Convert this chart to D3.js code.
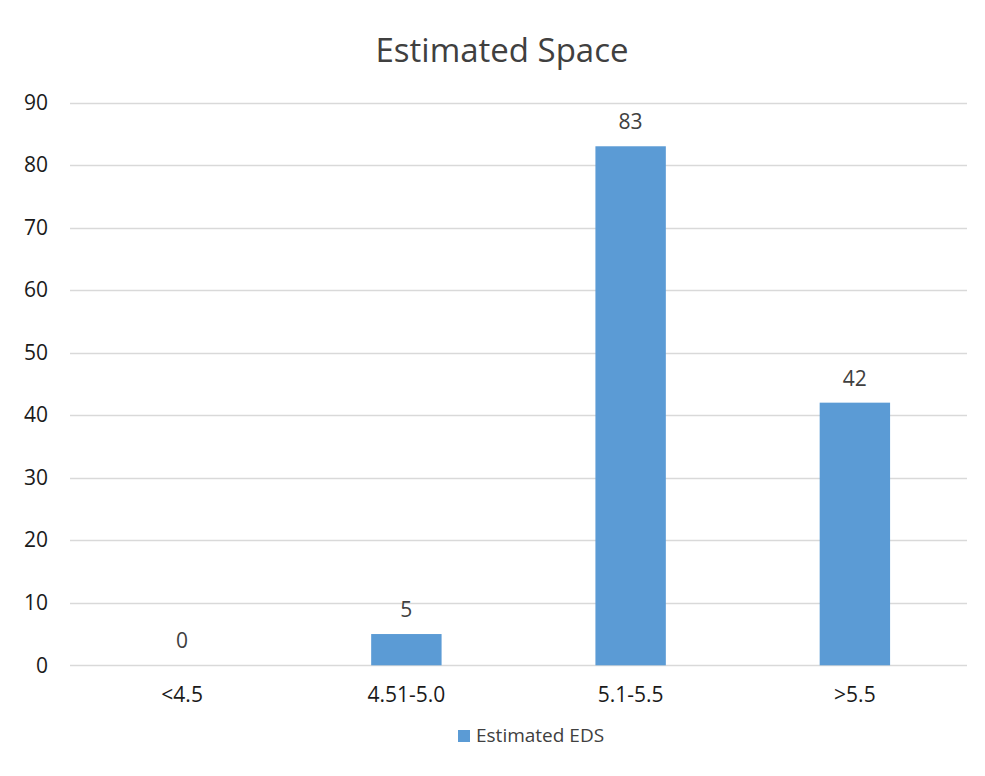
<!DOCTYPE html>
<html>
<head>
<meta charset="utf-8">
<script src="https://cdn.jsdelivr.net/npm/d3@7"></script>
<style>
  html, body { margin: 0; padding: 0; background: #fff; }
  svg { display: block; font-family: "Open Sans", "Noto Sans", sans-serif; }
</style>
</head>
<body>
<svg id="chart" width="985" height="776"></svg>
<script>
// Chart data
const categories = ["<4.5", "4.51-5.0", "5.1-5.5", ">5.5"];
const values = [0, 5, 83, 42];
const yTicks = [0, 10, 20, 30, 40, 50, 60, 70, 80, 90];
const seriesName = "Estimated EDS";
const chartTitle = "Estimated Space";

const svg = d3.select("#chart");
const margin = { left: 70, right: 18, top: 102.5, bottom: 110.7 };
const W = 985, H = 776;
const barColor = "#5b9bd5";
const fontStack = "'Open Sans', 'Noto Sans', sans-serif";

const x = d3.scaleBand()
  .domain(categories)
  .range([margin.left, W - margin.right])
  .paddingInner(0.686)
  .paddingOuter(0.343);

const y = d3.scaleLinear()
  .domain([0, 90])
  .range([H - margin.bottom, margin.top]);

// Horizontal gridlines
svg.append("g")
  .selectAll("line")
  .data(yTicks)
  .join("line")
  .attr("x1", margin.left)
  .attr("x2", W - margin.right)
  .attr("y1", d => Math.round(y(d)) + 0.5)
  .attr("y2", d => Math.round(y(d)) + 0.5)
  .attr("stroke", "#d9d9d9")
  .attr("stroke-width", 1.3);

// Y axis labels
const yAxis = d3.axisLeft(y).tickValues(yTicks).tickSize(0).tickPadding(0);
svg.append("g")
  .attr("transform", `translate(${margin.left - 22},0)`)
  .call(yAxis)
  .call(g => g.select(".domain").remove())
  .call(g => g.selectAll("text")
    .attr("fill", "#1a1a1a")
    .style("font-size", "21px")
    .style("font-family", fontStack));

// X axis labels
const xAxis = d3.axisBottom(x).tickSize(0).tickPadding(0);
svg.append("g")
  .attr("transform", `translate(0,${y(0) + 22})`)
  .call(xAxis)
  .call(g => g.select(".domain").remove())
  .call(g => g.selectAll("text")
    .attr("fill", "#1a1a1a")
    .style("font-size", "21px")
    .style("font-family", fontStack));

// Bars
svg.append("g")
  .selectAll("rect")
  .data(values)
  .join("rect")
  .attr("x", (d, i) => x(categories[i]))
  .attr("width", x.bandwidth())
  .attr("y", d => y(d))
  .attr("height", d => y(0) - y(d))
  .attr("fill", barColor);

// Value labels above bars
svg.append("g")
  .selectAll("text")
  .data(values)
  .join("text")
  .attr("x", (d, i) => x(categories[i]) + x.bandwidth() / 2)
  .attr("y", d => y(d) - 17)
  .attr("text-anchor", "middle")
  .attr("fill", "#404040")
  .style("font-size", "21px")
  .text(d => d);

// Title
svg.append("text")
  .attr("x", 502)
  .attr("y", 62)
  .attr("text-anchor", "middle")
  .attr("fill", "#404040")
  .style("font-size", "33px")
  .text(chartTitle);

// Legend
const legend = svg.append("g").attr("transform", "translate(458,730)");
legend.append("rect")
  .attr("width", 12)
  .attr("height", 12)
  .attr("fill", barColor);
legend.append("text")
  .attr("x", 18)
  .attr("y", 12)
  .attr("fill", "#404040")
  .style("font-size", "19px")
  .text(seriesName);
</script>
</body>
</html>
